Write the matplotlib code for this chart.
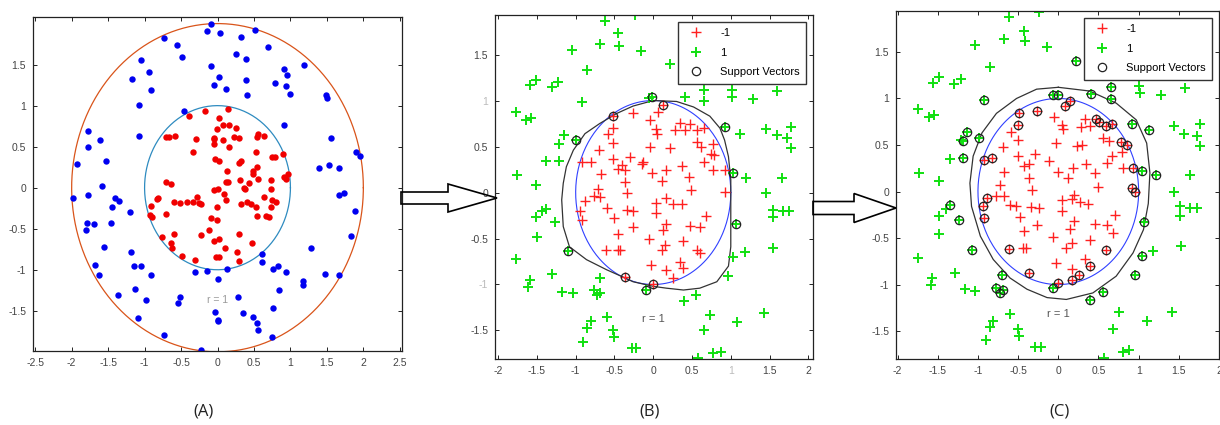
import numpy as np
import matplotlib
matplotlib.use("Agg")
import matplotlib.pyplot as plt
from matplotlib.patches import Polygon

plt.rcParams['font.family'] = ['Liberation Sans', 'DejaVu Sans']

# ---- panel A: raw data (blue = outer class, red = inner class)
a_blue = [(-0.09, 2.0), (-0.15, 1.91), (0.03, 1.89), (-0.74, 1.82), (-0.56, 1.74), (-0.49, 1.59),
          (-1.05, 1.56), (-0.94, 1.41), (-1.17, 1.32), (-0.91, 1.19), (-1.07, 1.01), (-0.46, 0.93),
          (0.32, 1.84), (0.52, 1.92), (0.69, 1.72), (0.26, 1.63), (0.39, 1.57), (-0.09, 1.48),
          (0.02, 1.35), (-0.05, 1.25), (0.12, 1.20), (0.39, 1.31), (0.41, 1.13), (0.91, 1.45),
          (0.95, 1.37), (0.79, 1.27), (0.94, 1.24), (0.99, 1.14), (1.18, 1.50), (1.49, 1.13),
          (1.50, 1.09), (0.91, 0.76), (1.55, 0.60), (1.90, 0.43), (1.95, 0.39), (1.39, 0.24),
          (1.53, 0.28), (1.66, 0.24), (1.67, -0.09), (1.73, -0.07), (1.88, -0.29), (1.83, -0.59),
          (1.28, -0.73), (0.61, -0.81), (0.61, -0.91), (0.76, -0.99), (0.83, -0.96), (0.94, -1.03),
          (1.48, -1.05), (1.67, -1.06), (1.17, -1.14), (1.17, -1.19), (0.85, -1.25), (0.76, -1.46),
          (0.75, -1.82), (0.54, -1.65), (0.55, -1.74), (0.48, -1.58), (0.35, -1.53), (0.28, -1.33),
          (0.13, -0.99), (0.00, -1.11), (-0.15, -1.02), (-0.31, -1.03), (-0.04, -1.51), (0.01, -1.61),
          (0.01, -1.63), (-0.22, -1.98), (-0.51, -1.33), (-0.54, -1.41), (-0.73, -1.79), (-1.09, -1.59),
          (-0.98, -1.37), (-1.13, -1.23), (-1.37, -1.31), (-0.91, -1.06), (-1.05, -0.95), (-1.15, -0.96),
          (-1.18, -0.78), (-1.20, -0.30), (-1.45, -0.24), (-1.41, -0.13), (-1.35, -0.16), (-1.46, -0.43),
          (-1.55, -0.72), (-1.68, -0.94), (-1.62, -1.06), (-1.70, -0.44), (-1.79, -0.43), (-1.81, -0.51),
          (-1.78, -0.09), (-1.98, -0.13), (-1.93, 0.29), (-1.53, 0.33), (-1.59, 0.02), (-1.78, 0.69),
          (-1.78, 0.50), (-1.61, 0.58), (-1.07, 0.63)]
a_red = [(-0.39, 0.87), (-0.17, 0.93), (0.15, 0.96), (0.02, 0.85), (0.07, 0.77), (0.16, 0.76),
         (0.26, 0.73), (-0.01, 0.72), (-0.05, 0.61), (-0.70, 0.62), (-0.66, 0.62), (-0.58, 0.63),
         (-0.30, 0.59), (-0.05, 0.59), (0.07, 0.58), (0.22, 0.62), (0.30, 0.60), (-0.05, 0.53),
         (0.16, 0.50), (-0.34, 0.44), (0.55, 0.65), (0.54, 0.62), (0.64, 0.63), (-0.03, 0.35),
         (0.02, 0.32), (0.30, 0.30), (0.32, 0.32), (0.53, 0.43), (0.75, 0.37), (0.79, 0.37),
         (0.90, 0.41), (0.54, 0.25), (0.48, 0.20), (0.49, 0.17), (0.13, 0.20), (0.15, 0.07),
         (0.12, 0.07), (0.31, 0.09), (0.55, 0.11), (0.43, 0.06), (0.36, 0.00), (0.38, -0.02),
         (0.73, 0.09), (0.91, 0.13), (0.96, 0.17), (0.94, 0.10), (0.73, -0.02), (0.64, -0.11),
         (0.75, -0.15), (0.80, -0.17), (0.74, -0.24), (0.53, -0.24), (0.54, -0.34), (0.66, -0.34),
         (0.71, -0.36), (0.41, -0.17), (0.46, -0.20), (0.32, -0.20), (0.09, -0.08), (0.12, -0.15),
         (0.00, -0.01), (-0.05, -0.03), (-0.01, -0.23), (-0.01, -0.39), (-0.09, -0.37), (-0.12, -0.52),
         (-0.05, -0.65), (0.02, -0.63), (-0.22, -0.58), (0.30, -0.56), (0.10, -0.74), (-0.02, -0.85),
         (0.02, -0.84), (0.27, -0.78), (0.30, -0.89), (0.47, -0.68), (-0.25, -0.19), (-0.22, -0.20),
         (-0.28, -0.11), (-0.33, -0.17), (-0.42, -0.17), (-0.51, -0.19), (-0.60, -0.18), (-0.70, 0.07),
         (-0.64, 0.04), (-0.81, -0.12), (-0.83, -0.14), (-0.91, -0.22), (-0.92, -0.33), (-0.90, -0.36),
         (-0.70, -0.32), (-0.76, -0.60), (-0.60, -0.56), (-0.64, -0.67), (-0.62, -0.74), (-0.48, -0.83),
         (-0.31, -0.88)]

# ---- panel B: SVM trained on part of the data
b_green = [(-0.24, 1.93), (-0.62, 1.86), (-0.45, 1.73), (-0.44, 1.59), (-0.68, 1.62), (-1.05, 1.55),
           (-0.16, 1.54), (-0.85, 1.33), (0.21, 1.40), (-1.59, 1.17), (-1.51, 1.22), (-1.31, 1.15),
           (-1.23, 1.20), (-0.92, 0.98), (-1.77, 0.88), (-1.64, 0.79), (-1.58, 0.81), (-1.15, 0.63),
           (-1.21, 0.53), (-1.38, 0.34), (-1.21, 0.34), (-1.76, 0.19), (-1.51, 0.08), (-1.43, -0.20),
           (-1.38, -0.18), (-1.51, -0.27), (-1.26, -0.32), (-1.50, -0.48), (-1.77, -0.72), (-1.59, -0.95),
           (-1.62, -1.03), (-1.30, -0.89), (-1.17, -1.08), (-1.04, -1.09), (-0.77, -1.06), (-0.73, -1.11),
           (-0.69, -1.09), (-0.69, -0.93), (-0.60, -1.35), (-0.80, -1.40), (-0.85, -1.47), (-0.90, -1.62),
           (-0.52, -1.49), (-0.50, -1.57), (-0.28, -1.69), (-0.22, -1.69), (0.40, -1.18), (0.55, -1.11),
           (0.73, -1.33), (0.66, -1.50), (0.58, -1.80), (0.77, -1.75), (0.88, -1.73), (1.08, -1.41),
           (1.43, -1.31), (1.03, -0.70), (1.18, -0.65), (0.96, -0.91), (1.55, -0.60), (1.54, -0.19),
           (1.54, -0.27), (1.67, -0.20), (1.75, -0.20), (1.45, -0.01), (1.66, 0.16), (1.20, 0.16),
           (1.12, 0.64), (1.45, 0.69), (1.59, 0.62), (1.73, 0.59), (1.78, 0.71), (1.78, 0.48),
           (1.60, 1.10), (1.28, 1.02), (1.01, 1.12), (1.02, 1.04), (0.65, 1.11), (0.65, 0.99),
           (0.41, 1.04), (-0.06, 1.03), (-0.01, 1.04), (-0.99, 0.57), (0.92, 0.71), (1.03, 0.21),
           (1.07, -0.34), (-1.10, -0.64), (-0.09, -1.06)]
b_red = [(-0.26, 0.86), (-0.04, 0.79), (0.06, 0.88), (0.03, 0.69), (0.05, 0.64), (0.34, 0.76),
         (0.28, 0.68), (0.41, 0.68), (0.47, 0.74), (0.57, 0.68), (0.65, 0.70), (-0.58, 0.64),
         (-0.52, 0.70), (-0.52, 0.54), (-0.04, 0.50), (0.22, 0.48), (0.57, 0.55), (0.62, 0.50),
         (0.77, 0.53), (0.75, 0.42), (0.79, 0.41), (-0.70, 0.46), (-0.30, 0.39), (-0.52, 0.36),
         (-0.92, 0.33), (-0.80, 0.33), (-0.40, 0.30), (-0.13, 0.33), (-0.15, 0.31), (0.37, 0.29),
         (0.65, 0.33), (0.77, 0.24), (0.92, 0.24), (0.17, 0.24), (-0.02, 0.21), (-0.67, 0.20),
         (-0.37, 0.25), (-0.45, 0.26), (0.46, 0.17), (0.11, 0.12), (-0.37, 0.11), (0.49, 0.03),
         (-0.71, 0.04), (-0.34, 0.00), (-0.77, -0.04), (-0.69, -0.05), (-0.88, -0.09), (0.17, -0.06),
         (0.04, -0.11), (0.26, -0.12), (0.37, -0.12), (-0.95, -0.20), (-0.60, -0.17), (-0.34, -0.19),
         (-0.26, -0.20), (-0.92, -0.30), (-0.50, -0.28), (0.03, -0.22), (-0.26, -0.38), (-0.45, -0.45),
         (0.17, -0.34), (0.12, -0.41), (0.47, -0.36), (0.60, -0.38), (0.68, -0.26), (-0.06, -0.51),
         (0.39, -0.53), (0.15, -0.57), (0.11, -0.62), (-0.61, -0.63), (-0.45, -0.63), (-0.43, -0.62),
         (0.56, -0.62), (0.60, -0.66), (-0.03, -0.79), (0.16, -0.84), (0.26, -0.93), (0.34, -0.76),
         (0.39, -0.82), (0.92, 0.01), (0.13, 0.95), (-0.52, 0.83), (-0.36, -0.92), (0.00, -1.00)]
b_sv = [(-0.01, 1.04), (0.13, 0.95), (-0.52, 0.83), (-0.99, 0.57), (0.92, 0.71), (1.03, 0.21),
        (1.07, -0.34), (-1.10, -0.64), (-0.36, -0.92), (-0.09, -1.06), (0.00, -1.00)]
b_bound = [(0.0, 1.0), (0.30, 0.99), (0.52, 0.93), (0.73, 0.83), (0.86, 0.70), (0.92, 0.57),
           (0.97, 0.39), (1.00, 0.14), (1.00, -0.15), (1.00, -0.59), (0.97, -0.80), (0.82, -0.97),
           (0.60, -1.04), (0.39, -1.06), (0.17, -1.04), (0.0, -1.02), (-0.26, -0.97), (-0.36, -0.93),
           (-0.60, -0.84), (-0.86, -0.73), (-1.08, -0.59), (-1.16, -0.37), (-1.18, -0.08), (-1.16, 0.10),
           (-1.12, 0.28), (-1.03, 0.46), (-0.88, 0.64), (-0.69, 0.75), (-0.47, 0.86), (-0.26, 0.94),
           (0.0, 1.0)]

# ---- panel C: SVM on the full data
c_green = [(-0.24, 1.93), (-0.61, 1.88), (-0.43, 1.73), (-0.41, 1.62), (-0.67, 1.64), (-1.04, 1.57),
           (-0.14, 1.55), (-0.85, 1.34), (-1.56, 1.17), (-1.49, 1.23), (-1.30, 1.16), (-1.21, 1.21),
           (-1.74, 0.89), (-1.61, 0.80), (-1.55, 0.82), (-1.21, 0.55), (-1.35, 0.35), (-1.73, 0.20),
           (-1.48, 0.11), (-1.40, -0.19), (-1.48, -0.26), (-1.48, -0.46), (-1.74, -0.71), (-1.57, -0.93),
           (-1.58, -1.01), (-1.28, -0.88), (-1.16, -1.05), (-1.04, -1.07), (-0.60, -1.32), (-0.81, -1.39),
           (-0.85, -1.46), (-0.90, -1.60), (-0.50, -1.48), (-0.49, -1.55), (-0.29, -1.67), (-0.22, -1.67),
           (0.57, -1.79), (0.68, -1.48), (0.76, -1.30), (0.80, -1.73), (0.88, -1.70), (1.10, -1.39),
           (1.42, -1.29), (1.18, -0.64), (1.53, -0.59), (1.51, -0.16), (1.51, -0.26), (1.64, -0.18),
           (1.72, -0.18), (1.44, 0.00), (1.64, 0.18), (1.44, 0.70), (1.57, 0.62), (1.72, 0.60),
           (1.76, 0.73), (1.76, 0.49), (1.28, 1.04), (1.01, 1.13), (1.02, 1.06), (1.58, 1.11),
           (0.22, 1.40), (0.41, 1.05), (0.65, 1.12), (0.66, 0.99), (-0.07, 1.04), (0.00, 1.04),
           (-0.92, 0.98), (-1.14, 0.64), (-1.18, 0.54), (-0.99, 0.58), (-1.19, 0.36), (0.92, 0.73),
           (1.13, 0.66), (1.04, 0.22), (1.21, 0.18), (1.07, -0.33), (1.04, -0.69), (0.95, -0.90),
           (-1.35, -0.15), (-1.24, -0.31), (-1.08, -0.63), (-0.70, -0.90), (-0.77, -1.04), (-0.73, -1.09),
           (-0.69, -1.06), (-0.07, -1.04), (0.40, -1.17), (0.56, -1.08)]
c_red = [(-0.05, 0.80), (0.05, 0.71), (0.06, 0.67), (0.28, 0.69), (0.33, 0.78), (0.39, 0.70),
         (0.56, 0.57), (0.63, 0.54), (-0.59, 0.64), (-0.50, 0.55), (-0.69, 0.48), (-0.03, 0.52),
         (0.23, 0.49), (0.29, 0.50), (-0.29, 0.40), (-0.50, 0.38), (-0.12, 0.33), (-0.37, 0.30),
         (-0.43, 0.27), (0.34, 0.30), (0.18, 0.25), (0.00, 0.21), (-0.67, 0.21), (0.46, 0.20),
         (0.61, 0.31), (0.67, 0.38), (0.80, 0.25), (0.79, 0.43), (0.12, 0.14), (-0.37, 0.14),
         (-0.72, 0.07), (0.49, 0.05), (-0.33, 0.02), (-0.77, -0.05), (-0.68, -0.05), (0.19, -0.04),
         (0.05, -0.09), (0.17, -0.08), (0.27, -0.11), (0.37, -0.13), (-0.60, -0.14), (-0.53, -0.16),
         (-0.34, -0.17), (-0.24, -0.18), (0.04, -0.21), (-0.48, -0.27), (0.70, -0.25), (0.19, -0.32),
         (0.46, -0.35), (0.60, -0.36), (-0.26, -0.36), (-0.43, -0.42), (0.14, -0.40), (0.68, -0.45),
         (-0.06, -0.49), (0.39, -0.52), (-0.44, -0.61), (-0.40, -0.61), (0.10, -0.61), (0.17, -0.55),
         (0.33, -0.73), (-0.03, -0.77), (0.17, -0.83),
         (-0.49, 0.84), (-0.50, 0.71), (-0.26, 0.87), (0.08, 0.92), (0.14, 0.97), (0.47, 0.78),
         (0.51, 0.75), (0.59, 0.70), (0.67, 0.73), (0.78, 0.53), (0.86, 0.50), (0.93, 0.25),
         (0.92, 0.04), (0.95, 0.00), (-0.92, 0.34), (-0.82, 0.36), (-0.89, -0.07), (-0.94, -0.16),
         (-0.93, -0.29), (-0.61, -0.62), (-0.36, -0.88), (0.00, -0.98), (0.17, -0.95), (0.26, -0.90),
         (0.39, -0.80), (0.59, -0.63)]
c_sv = [(0.22, 1.40), (0.41, 1.05), (0.65, 1.12), (0.66, 0.99), (-0.07, 1.04), (0.00, 1.04),
        (-0.92, 0.98), (-1.14, 0.64), (-1.18, 0.54), (-0.99, 0.58), (-1.19, 0.36), (0.92, 0.73),
        (1.13, 0.66), (1.04, 0.22), (1.21, 0.18), (1.07, -0.33), (1.04, -0.69), (0.95, -0.90),
        (-1.35, -0.15), (-1.24, -0.31), (-1.08, -0.63), (-0.70, -0.90), (-0.77, -1.04), (-0.73, -1.09),
        (-0.69, -1.06), (-0.07, -1.04), (0.40, -1.17), (0.56, -1.08),
        (-0.49, 0.84), (-0.50, 0.71), (-0.26, 0.87), (0.08, 0.92), (0.14, 0.97), (0.47, 0.78),
        (0.51, 0.75), (0.59, 0.70), (0.67, 0.73), (0.78, 0.53), (0.86, 0.50), (0.93, 0.25),
        (0.92, 0.04), (0.95, 0.00), (-0.92, 0.34), (-0.82, 0.36), (-0.89, -0.07), (-0.94, -0.16),
        (-0.93, -0.29), (-0.61, -0.62), (-0.36, -0.88), (0.00, -0.98), (0.17, -0.95), (0.26, -0.90),
        (0.39, -0.80), (0.59, -0.63)]
c_bound = [(0.0, 1.12), (0.39, 1.08), (0.72, 0.95), (0.97, 0.77), (1.10, 0.52), (1.14, 0.20),
           (1.12, -0.13), (1.06, -0.41), (0.93, -0.66), (0.72, -0.91), (0.43, -1.09), (0.10, -1.16),
           (-0.14, -1.14), (-0.39, -1.05), (-0.60, -0.93), (-0.81, -0.73), (-0.97, -0.48), (-1.08, -0.16),
           (-1.10, 0.09), (-1.06, 0.38), (-0.95, 0.63), (-0.77, 0.84), (-0.52, 1.00), (-0.27, 1.10),
           (0.0, 1.12)]

W, H = 1220, 425


def px_axes(fig, left, top, right, bottom):
    return fig.add_axes([left / W, 1 - bottom / H, (right - left) / W, (bottom - top) / H])


def style(ax, xt, yt, xl, yl, faint=()):
    ax.set_xticks(xt)
    ax.set_yticks(yt)
    ax.set_xticklabels(xl)
    ax.set_yticklabels(yl)
    ax.tick_params(direction='in', top=True, right=True, length=3, width=0.6,
                   labelsize=7.5, labelcolor='#444', pad=5)
    for s in ax.spines.values():
        s.set_linewidth(0.9)
        s.set_color('#222')
    for t in ax.get_yticklabels():
        if t.get_text() in faint:
            t.set_color('#bbb')
    for t in ax.get_xticklabels():
        if t.get_text() in faint and t.get_text() != '-1':
            t.set_color('#bbb')


def circle(ax, r, **kw):
    t = np.linspace(0, 2 * np.pi, 300)
    ax.plot(r * np.cos(t), r * np.sin(t), **kw)


def arrow(fig, x0, x1, xh, yc, shaft, head):
    pts = [(x0, yc - shaft), (xh, yc - shaft), (xh, yc - head), (x1, yc),
           (xh, yc + head), (xh, yc + shaft), (x0, yc + shaft)]
    pts = [(x / W, 1 - y / H) for x, y in pts]
    fig.patches.append(Polygon(pts, closed=True, fill=False, edgecolor='black',
                               linewidth=1.2, transform=fig.transFigure))


def svm_panel(ax, green, red, sv, bound):
    circle(ax, 1, color='#3040FF', lw=0.8)
    p = np.array(bound)
    ax.plot(p[:, 0], p[:, 1], color='#333', lw=0.9)
    p = np.array(red)
    ax.plot(p[:, 0], p[:, 1], '+', color='#FF2020', ms=7.5, mew=1.0, ls='none', label='-1')
    p = np.array(green)
    ax.plot(p[:, 0], p[:, 1], '+', color='#10E010', ms=7, mew=1.4, ls='none', label='1')
    p = np.array(sv)
    ax.plot(p[:, 0], p[:, 1], 'o', mfc='none', mec='#222', ms=6, mew=0.9, ls='none',
            label='Support Vectors')
    ax.legend(loc='upper right', fancybox=False, edgecolor='#333', framealpha=1, fontsize=8,
              labelspacing=0.85, handletextpad=1.2, borderpad=0.6, borderaxespad=0.6)


fig = plt.figure(figsize=(12.2, 4.25), dpi=100)

# (A)
ax = px_axes(fig, 33, 17, 402, 351)
circle(ax, 2, color='#D9541A', lw=0.9)
circle(ax, 1, color='#2E8BC0', lw=0.9)
p = np.array(a_blue)
ax.plot(p[:, 0], p[:, 1], 'o', color='#0000F0', ms=4.6, mec='none')
p = np.array(a_red)
ax.plot(p[:, 0], p[:, 1], 'o', color='#F00000', ms=4.6, mec='none')
ax.text(0, -1.37, 'r = 1', ha='center', va='center', fontsize=7.5, color='#999')
ax.set_xlim(-2.53, 2.53)
ax.set_ylim(-1.99, 2.08)
style(ax, np.arange(-2.5, 2.51, 0.5), [-1.5, -1, -0.5, 0, 0.5, 1, 1.5],
      ['-2.5', '-2', '-1.5', '-1', '-0.5', '0', '0.5', '1', '1.5', '2', '2.5'],
      ['-1.5', '-1', '-0.5', '0', '0.5', '1', '1.5'])

# (B)
ax = px_axes(fig, 495, 15, 813, 359)
svm_panel(ax, b_green, b_red, b_sv, b_bound)
ax.text(0, -1.37, 'r = 1', ha='center', va='center', fontsize=8, color='#555')
ax.set_xlim(-2.04, 2.06)
ax.set_ylim(-1.81, 1.93)
style(ax, np.arange(-2, 2.01, 0.5), [-1.5, -1, -0.5, 0, 0.5, 1, 1.5],
      ['-2', '-1.5', '-1', '-0.5', '0', '0.5', '1', '1.5', '2'],
      ['-1.5', '-1', '-0.5', '0', '0.5', '1', '1.5'], faint=('1', '-1'))

# (C)
ax = px_axes(fig, 896, 11, 1219, 359)
svm_panel(ax, c_green, c_red, c_sv, c_bound)
ax.text(0, -1.32, 'r = 1', ha='center', va='center', fontsize=8, color='#555')
ax.set_xlim(-2.02, 2.0)
ax.set_ylim(-1.80, 1.94)
style(ax, np.arange(-2, 2.01, 0.5), [-1.5, -1, -0.5, 0, 0.5, 1, 1.5],
      ['-2', '-1.5', '-1', '-0.5', '0', '0.5', '1', '1.5', '2'],
      ['-1.5', '-1', '-0.5', '0', '0.5', '1', '1.5'])

arrow(fig, 401, 497, 448, 198, 6, 14)
arrow(fig, 813, 896, 854, 208, 6.5, 14.5)

for lab, x in [('(A)', 204), ('(B)', 650), ('(C)', 1060)]:
    fig.text(x / W, 1 - 412 / H, lab, ha='center', va='center', fontsize=12,
             family=['Open Sans', 'DejaVu Sans'], color='#222')

fig.savefig('out.png', dpi=100)
